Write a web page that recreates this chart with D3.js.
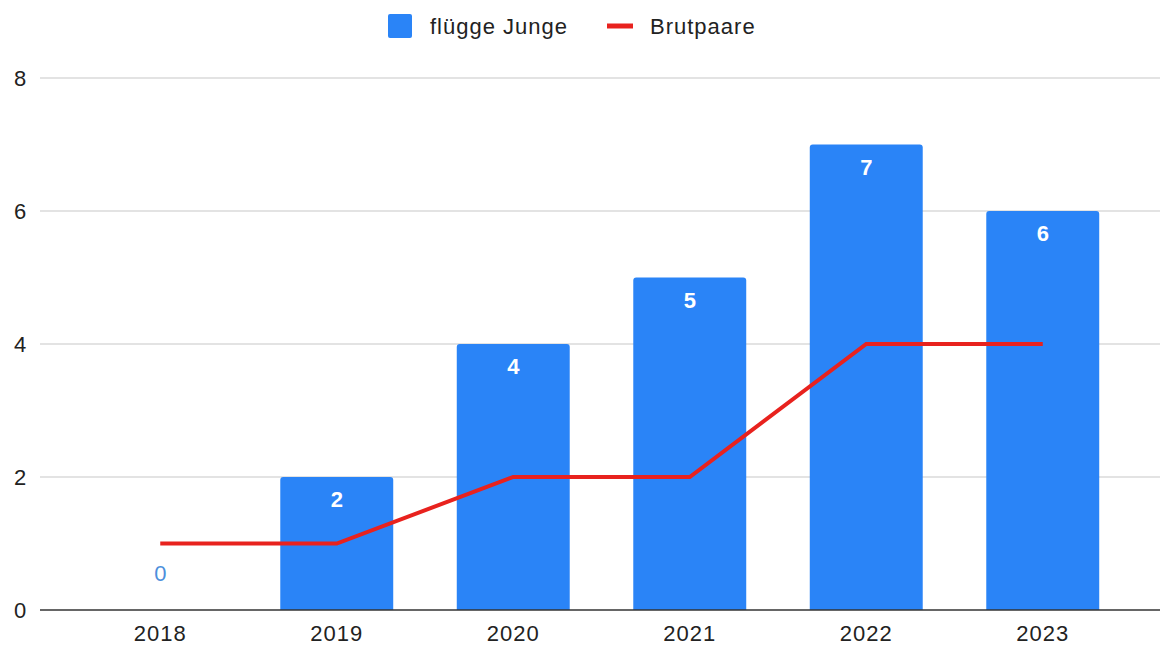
<!DOCTYPE html>
<html>
<head>
<meta charset="utf-8">
<script src="https://cdn.jsdelivr.net/npm/d3@7"></script>
<style>
  body { margin: 0; background: #fff; }
  text { font-family: "Liberation Sans", Arial, sans-serif; }
</style>
</head>
<body>
<figure id="chart" style="margin:0"></figure>
<script>
const years = ["2018", "2019", "2020", "2021", "2022", "2023"];
const juvenile = [0, 2, 4, 5, 7, 6];      // flügge Junge
const pairs = [1, 1, 2, 2, 4, 4];         // Brutpaare
const yTicks = [0, 2, 4, 6, 8];
const seriesNames = ["flügge Junge", "Brutpaare"];

const width = 1162, height = 653;
const plotLeft = 40, plotRight = 1160, plotTop = 78, plotBottom = 610;
const barColor = "#2a84f7", lineColor = "#e8221e";
const fontSize = "22px";

const svg = d3.select("#chart")
  .append("svg")
  .attr("width", width)
  .attr("height", height);

// scales
const x = d3.scaleBand()
  .domain(years)
  .range([72, 1131])
  .paddingInner(0.36)
  .paddingOuter(0.18);

const y = d3.scaleLinear()
  .domain([0, 8])
  .range([plotBottom, plotTop]);

// gridlines
svg.append("g")
  .selectAll("line")
  .data(yTicks.filter(d => d > 0))
  .enter()
  .append("line")
  .attr("x1", plotLeft)
  .attr("x2", plotRight)
  .attr("y1", d => y(d))
  .attr("y2", d => y(d))
  .attr("stroke", "#dadada")
  .attr("stroke-width", 1.5);

// y axis labels
const yAxis = svg.append("g")
  .attr("transform", "translate(" + plotLeft + ",0)")
  .call(d3.axisLeft(y).tickValues(yTicks).tickSize(0).tickPadding(20));
yAxis.select(".domain").remove();
yAxis.selectAll("text")
  .style("font-size", fontSize)
  .attr("fill", "#222")
  .attr("text-anchor", "middle");

// bars with slightly rounded tops
const r = 3;
svg.append("g")
  .selectAll("path")
  .data(years.map((yr, i) => ({ yr, v: juvenile[i] })).filter(d => d.v > 0))
  .enter()
  .append("path")
  .attr("d", d => {
    const x0 = x(d.yr), x1 = x0 + x.bandwidth(), y0 = y(d.v), yb = y(0);
    return "M" + x0 + "," + yb + "V" + (y0 + r) + "Q" + x0 + "," + y0 + " " + (x0 + r) + "," + y0 +
      "H" + (x1 - r) + "Q" + x1 + "," + y0 + " " + x1 + "," + (y0 + r) + "V" + yb + "Z";
  })
  .attr("fill", barColor);

// bar value labels
svg.append("g")
  .selectAll("text")
  .data(years.map((yr, i) => ({ yr, v: juvenile[i] })))
  .enter()
  .append("text")
  .attr("x", d => x(d.yr) + x.bandwidth() / 2)
  .attr("y", d => d.v > 0 ? y(d.v) + 30 : y(d.v) - 29)
  .attr("text-anchor", "middle")
  .style("font-size", fontSize)
  .style("font-weight", d => d.v > 0 ? "bold" : "normal")
  .attr("fill", d => d.v > 0 ? "#fff" : "#4d8fdc")
  .text(d => d.v);

// baseline
svg.append("line")
  .attr("x1", plotLeft)
  .attr("x2", plotRight)
  .attr("y1", y(0))
  .attr("y2", y(0))
  .attr("stroke", "#333")
  .attr("stroke-width", 1.5);

// x axis labels
const xAxis = svg.append("g")
  .attr("transform", "translate(0," + y(0) + ")")
  .call(d3.axisBottom(x).tickSize(0).tickPadding(15));
xAxis.select(".domain").remove();
xAxis.selectAll("text")
  .style("font-size", fontSize)
  .style("letter-spacing", "1px")
  .attr("fill", "#222");

// line series
const line = d3.line()
  .x((d, i) => x(years[i]) + x.bandwidth() / 2)
  .y(d => y(d));
svg.append("path")
  .datum(pairs)
  .attr("d", line)
  .attr("fill", "none")
  .attr("stroke", lineColor)
  .attr("stroke-width", 4);

// legend
const legend = svg.append("g");
legend.append("rect")
  .attr("x", 388).attr("y", 14)
  .attr("width", 24).attr("height", 24)
  .attr("rx", 2)
  .attr("fill", barColor);
legend.append("text")
  .attr("x", 430).attr("y", 34)
  .style("font-size", fontSize)
  .style("letter-spacing", "1px")
  .attr("fill", "#222")
  .text(seriesNames[0]);
legend.append("line")
  .attr("x1", 607).attr("x2", 633)
  .attr("y1", 26).attr("y2", 26)
  .attr("stroke", lineColor)
  .attr("stroke-width", 5);
legend.append("text")
  .attr("x", 650).attr("y", 34)
  .style("font-size", fontSize)
  .style("letter-spacing", "1px")
  .attr("fill", "#222")
  .text(seriesNames[1]);
</script>
</body>
</html>
